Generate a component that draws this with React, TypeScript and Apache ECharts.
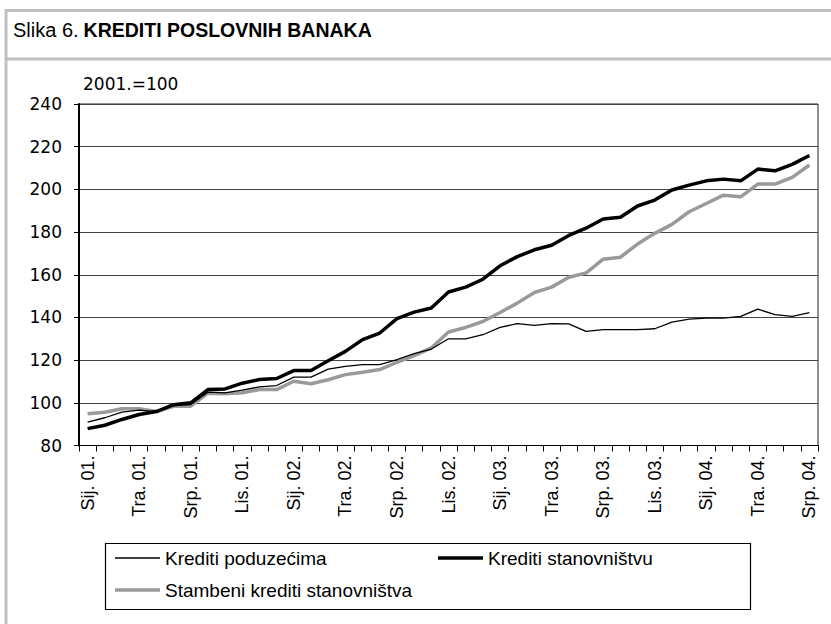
import React, { useEffect, useRef } from "react";
import * as echarts from "echarts";

const monthAbbr = ["Sij", "Velj", "Ožu", "Tra", "Svi", "Lip", "Srp", "Kol", "Ruj", "Lis", "Stu", "Pro"];
const yearLabels = ["01", "02", "03", "04"];
const lastYearMonths = 7;

const categories: string[] = [];
yearLabels.forEach((y, yi) => {
  const n = yi === yearLabels.length - 1 ? lastYearMonths : 12;
  for (let m = 0; m < n; m++) categories.push(`${monthAbbr[m]}. ${y}.`);
});

const kreditiPoduzecima = [
  90.9, 93.0, 95.6, 96.6, 95.9, 98.7, 99.2, 105.0, 104.7, 105.9, 107.5, 108.1,
  112.0, 112.0, 115.8, 117.1, 117.9, 117.9, 120.2, 123.0, 125.2, 130.0, 130.0, 131.9,
  135.3, 137.1, 136.3, 137.1, 137.0, 133.5, 134.3, 134.3, 134.3, 134.7, 137.8, 139.2,
  139.7, 139.7, 140.5, 143.9, 141.3, 140.5, 142.3,
];

const kreditiStanovnistvu = [
  87.9, 89.5, 92.2, 94.5, 95.9, 99.1, 100.0, 106.2, 106.5, 109.2, 110.9, 111.4,
  115.1, 115.1, 119.7, 124.1, 129.6, 132.7, 139.4, 142.5, 144.4, 151.9, 154.2, 157.9,
  164.2, 168.5, 171.7, 173.8, 178.4, 181.8, 186.1, 186.9, 192.2, 195.0, 199.7, 202.0,
  204.0, 204.8, 204.0, 209.5, 208.7, 211.7, 215.9,
];

const stambeniKrediti = [
  94.9, 95.6, 97.2, 97.2, 95.9, 98.4, 98.4, 104.5, 104.2, 104.7, 106.2, 106.2,
  110.1, 108.9, 110.8, 113.2, 114.3, 115.6, 119.0, 122.1, 125.7, 133.2, 135.3, 138.1,
  142.3, 146.7, 151.7, 154.2, 158.8, 160.8, 167.3, 168.2, 174.4, 179.4, 183.6, 189.5,
  193.4, 197.3, 196.5, 202.5, 202.5, 205.6, 211.4,
];

const seriesNames = ["Krediti poduzećima", "Krediti stanovništvu", "Stambeni krediti stanovništva"];
const yTicks = { min: 80, max: 240, interval: 20 };
const baseNote = "2001.=100";

const SANS = "'Liberation Sans', Arial, sans-serif";
const WIDE = "'DejaVu Sans', Verdana, sans-serif";

export default function App() {
  const ref = useRef<HTMLDivElement>(null);
  useEffect(() => {
    if (!ref.current) return;
    const chart = echarts.init(ref.current, null, { renderer: "svg" });
    const frame = "#c0c0c0";
    const legendCommon = {
      orient: "horizontal",
      itemWidth: 45,
      icon: "rect",
      padding: 0,
      selectedMode: false,
      textStyle: { fontFamily: SANS, fontSize: 19, color: "#000" },
    };
    chart.setOption({
      animation: false,
      backgroundColor: "#fff",
      title: {
        text: "{a|Slika 6.} {b|KREDITI POSLOVNIH BANAKA}",
        left: 13,
        top: 20,
        padding: 0,
        textStyle: {
          fontWeight: "normal",
          rich: {
            a: { fontFamily: SANS, fontSize: 20, fontWeight: "normal", color: "#000" },
            b: { fontFamily: SANS, fontSize: 19.5, fontWeight: "bold", color: "#000" },
          },
        },
      },
      graphic: [
        { type: "line", shape: { x1: 6, y1: 9, x2: 6, y2: 624 }, style: { stroke: frame, lineWidth: 3 } },
        { type: "line", shape: { x1: 5, y1: 10.5, x2: 831, y2: 10.5 }, style: { stroke: frame, lineWidth: 3 } },
        { type: "line", shape: { x1: 5, y1: 59, x2: 831, y2: 59 }, style: { stroke: frame, lineWidth: 3 } },
        {
          type: "rect",
          shape: { x: 105.5, y: 543.5, width: 645, height: 66 },
          style: { fill: "none", stroke: "#000", lineWidth: 1.2 },
        },
      ],
      legend: [
        { ...legendCommon, itemHeight: 1.5, left: 115, top: 548.5, data: [seriesNames[0]] },
        { ...legendCommon, itemHeight: 3.5, left: 438, top: 548.5, data: [seriesNames[1]] },
        { ...legendCommon, itemHeight: 3.5, left: 115, top: 580.5, data: [seriesNames[2]] },
      ],
      grid: {
        left: 79,
        right: 13,
        top: 104,
        bottom: 178.5,
        show: true,
        borderColor: "#222",
        borderWidth: 1,
        backgroundColor: "transparent",
      },
      xAxis: {
        type: "category",
        data: categories,
        boundaryGap: true,
        axisLine: { show: true, lineStyle: { color: "#000", width: 1.2 } },
        axisTick: { show: true, interval: 0, length: 6, lineStyle: { color: "#000", width: 1 } },
        axisLabel: {
          interval: 2,
          rotate: 90,
          margin: 10,
          fontFamily: SANS,
          fontSize: 18,
          color: "#000",
        },
        splitLine: { show: false },
      },
      yAxis: {
        type: "value",
        min: yTicks.min,
        max: yTicks.max,
        interval: yTicks.interval,
        name: baseNote,
        nameLocation: "end",
        nameGap: 12,
        nameTextStyle: { fontFamily: WIDE, fontSize: 17, color: "#000", align: "left", padding: [0, 0, 0, 4] },
        axisLine: { show: true, lineStyle: { color: "#000", width: 2 } },
        axisTick: { show: true, inside: false, length: 5, lineStyle: { color: "#000", width: 1 } },
        axisLabel: { margin: 17, fontFamily: WIDE, fontSize: 17, color: "#000" },
        splitLine: { show: true, lineStyle: { color: "#444", width: 1 } },
      },
      series: [
        {
          name: seriesNames[0],
          type: "line",
          data: kreditiPoduzecima,
          symbol: "none",
          lineStyle: { color: "#000", width: 1.3 },
          itemStyle: { color: "#000" },
          z: 4,
        },
        {
          name: seriesNames[1],
          type: "line",
          data: kreditiStanovnistvu,
          symbol: "none",
          lineStyle: { color: "#000", width: 3.5 },
          itemStyle: { color: "#000" },
          z: 3,
        },
        {
          name: seriesNames[2],
          type: "line",
          data: stambeniKrediti,
          symbol: "none",
          lineStyle: { color: "#9a9a9a", width: 3.5 },
          itemStyle: { color: "#9a9a9a" },
          z: 2,
        },
      ],
    });
    return () => chart.dispose();
  }, []);
  return <div ref={ref} style={{ position: "fixed", left: 0, top: 0, width: 831, height: 624 }} />;
}
